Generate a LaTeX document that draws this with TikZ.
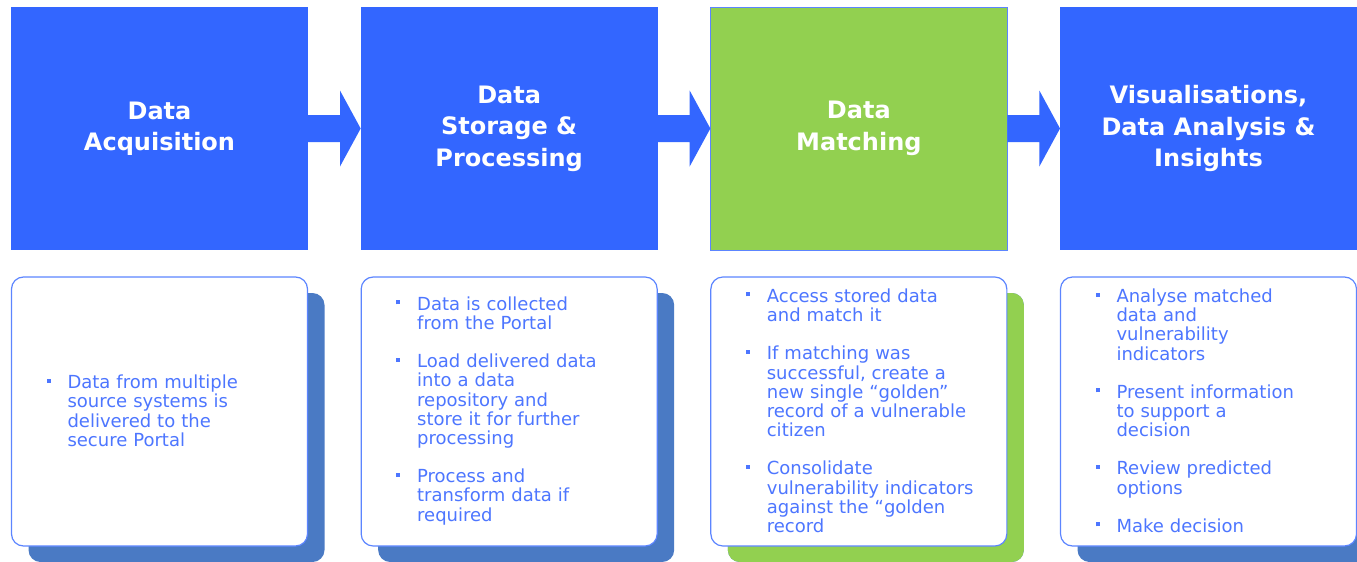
\documentclass[tikz,border=0pt]{standalone}
\usepackage{fontspec}
\setmainfont{DejaVu Sans}
\usepackage{enumitem}
\usetikzlibrary{positioning,calc,shadows}

\definecolor{stageblue}{HTML}{3366FF}
\definecolor{stagegreen}{HTML}{92D050}
\definecolor{shadowblue}{HTML}{4A7AC4}
\definecolor{noteblue}{HTML}{4D76FF}
\definecolor{noteline}{HTML}{5C85FF}

\setlist[itemize]{label={\rule[6pt]{4pt}{4pt}},labelindent=35pt,labelwidth=21pt,labelsep=0pt,leftmargin=!,align=left,itemsep=19pt,parsep=0pt,topsep=0pt,partopsep=0pt,after=\vspace{7pt}}

\begin{document}
\begin{tikzpicture}
 \useasboundingbox (0,0) rectangle (1357pt,-562pt);

\tikzstyle{stage}=[fill=stageblue,draw=none,outer sep=0pt,inner sep=0pt,minimum width=297pt,minimum height=243pt,align=center,text=white,font=\fontsize{24pt}{31.5pt}\selectfont\bfseries]
\tikzstyle{note}=[draw=noteline,line width=1.2pt,fill=white,rounded corners=12pt,outer sep=0pt,inner xsep=0pt,inner ysep=6pt,text width=296pt,minimum height=269pt,align=left,text=noteblue,font=\fontsize{18pt}{19.2pt}\selectfont,drop shadow={shadow xshift=17pt,shadow yshift=-16pt,fill=shadowblue,opacity=1}]

   %draw stages
    \node (acq) [stage] at (159.5pt,-128.5pt) {Data\\Acquisition};
    \node (store) [stage,right=52.67pt of acq] {Data\\Storage \&\\Processing};
    \node (match) [stage,fill=stagegreen,draw=noteline,line width=1pt,right=52.67pt of store] {Data\\Matching};
    \node (insight) [stage,right=52.67pt of match] {Visualisations,\\Data Analysis \&\\Insights};

   %draw arrows between stages
    \foreach \from/\to in {acq/store,store/match,match/insight}
    \fill [stageblue] ($(\from.east)+(0,13.5pt)$) -- ++(32pt,0) -- ++(0,24.5pt) -- (\to.west)
        -- ($(\from.east)+(32pt,-38pt)$) -- ++(0,24.5pt) -- ($(\from.east)+(0,-13.5pt)$) -- cycle;

   %draw notes
    \node (acq_note) [note,below=27pt of acq] {\begin{itemize}
        \item Data from multiple\\source systems is\\delivered to the\\secure Portal
    \end{itemize}};

    \node (store_note) [note,below=27pt of store] {\begin{itemize}
        \item Data is collected\\from the Portal
        \item Load delivered data\\into a data\\repository and\\store it for further\\processing
        \item Process and\\transform data if\\required
    \end{itemize}};

    \node (match_note) [note,below=27pt of match,drop shadow={shadow xshift=17pt,shadow yshift=-16pt,fill=stagegreen,opacity=1}] {\begin{itemize}
        \item Access stored data\\and match it
        \item If matching was\\successful, create a\\new single “golden”\\record of a vulnerable\\citizen
        \item Consolidate\\vulnerability indicators\\against the “golden\\record
    \end{itemize}};

    \node (insight_note) [note,below=27pt of insight] {\begin{itemize}
        \item Analyse matched\\data and\\vulnerability\\indicators
        \item Present information\\to support a\\decision
        \item Review predicted\\options
        \item Make decision
    \end{itemize}};

\end{tikzpicture}
\end{document}
